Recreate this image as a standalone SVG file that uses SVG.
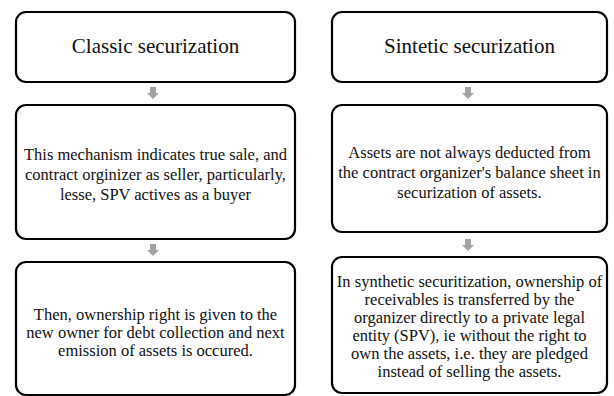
<svg xmlns="http://www.w3.org/2000/svg" width="614" height="396" viewBox="0 0 614 396">
  <defs>
    <style>
      .box { fill: #ffffff; stroke: #000000; stroke-width: 2.2; }
      .title { font-family: "Liberation Serif", "Times New Roman", serif; font-size: 21px; fill: #111111; text-anchor: middle; }
      .body { font-family: "Liberation Serif", "Times New Roman", serif; font-size: 16.5px; fill: #111111; text-anchor: middle; }
      .arrow { fill: #a3a3a3; }
    </style>
    <path id="down" d="M -3 0 H 3 V 6 H 6 L 0 12 L -6 6 H -3 Z"/>
  </defs>
  <rect width="614" height="396" fill="#ffffff"/>

  <!-- Left column: classic -->
  <g id="classic-title">
    <rect class="box" x="16" y="12" width="279" height="70" rx="10"/>
    <text class="title" x="155.5" y="53">Classic securization</text>
  </g>
  <g id="classic-mechanism">
    <rect class="box" x="16" y="105" width="279" height="134" rx="10"/>
    <text class="body" x="155.5" y="160">This mechanism indicates true sale, and</text>
    <text class="body" x="155.5" y="180">contract orginizer as seller, particularly,</text>
    <text class="body" x="155.5" y="200">lesse, SPV actives as a buyer</text>
  </g>
  <g id="classic-ownership">
    <rect class="box" x="16" y="262" width="279" height="133" rx="10"/>
    <text class="body" x="155.5" y="320">Then, ownership right is given to the</text>
    <text class="body" x="155.5" y="338">new owner for debt collection and next</text>
    <text class="body" x="155.5" y="356">emission of assets is occured.</text>
  </g>

  <!-- Right column: synthetic -->
  <g id="synthetic-title">
    <rect class="box" x="332" y="12" width="275" height="70" rx="10"/>
    <text class="title" x="469.5" y="53">Sintetic securization</text>
  </g>
  <g id="synthetic-balance">
    <rect class="box" x="332" y="105" width="275" height="127" rx="10"/>
    <text class="body" x="469.5" y="158">Assets are not always deducted from</text>
    <text class="body" x="469.5" y="178">the contract organizer's balance sheet in</text>
    <text class="body" x="469.5" y="198">securization of assets.</text>
  </g>
  <g id="synthetic-ownership">
    <rect class="box" x="332" y="257" width="275" height="136" rx="10"/>
    <text class="body" x="469.5" y="287">In synthetic securitization, ownership of</text>
    <text class="body" x="469.5" y="305">receivables is transferred by the</text>
    <text class="body" x="469.5" y="323">organizer directly to a private legal</text>
    <text class="body" x="469.5" y="341">entity (SPV), ie without the right to</text>
    <text class="body" x="469.5" y="359">own the assets, i.e. they are pledged</text>
    <text class="body" x="469.5" y="377">instead of selling the assets.</text>
  </g>

  <!-- Connectors -->
  <g id="connectors" class="arrow">
    <use href="#down" x="153" y="87"/>
    <use href="#down" x="153" y="244"/>
    <use href="#down" x="468" y="87"/>
    <use href="#down" x="468" y="239"/>
  </g>
</svg>
